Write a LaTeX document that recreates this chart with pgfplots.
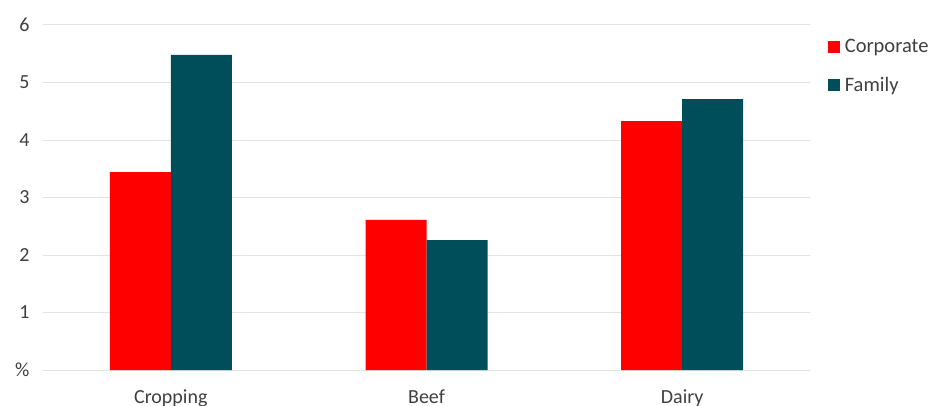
\documentclass[border=0pt]{standalone}
\usepackage{pgfplots}
\pgfplotsset{compat=1.18}
\usepackage{fontspec}
\setmainfont{Carlito}
\definecolor{corp}{HTML}{FF0000}
\definecolor{fam}{HTML}{004E5A}
\definecolor{txt}{HTML}{404040}
\definecolor{grd}{HTML}{E3E3E3}
\begin{document}
\begin{tikzpicture}[x=1pt,y=1pt]
\useasboundingbox (0,0) rectangle (929,405);
\begin{axis}[
  at={(43pt,35pt)}, anchor=south west,
  scale only axis, width=767pt, height=345pt,
  xmin=-0.5, xmax=2.5, ymin=0, ymax=6,
  ybar=0pt, bar width=61pt,
  axis line style={draw=none},
  xtick={0,1,2}, xticklabels={Cropping,Beef,Dairy},
  ytick={0,1,2,3,4,5,6}, yticklabels={\%,1,2,3,4,5,6},
  major tick length=0pt,
  ymajorgrids, grid style={grd, line width=1pt},
  tick label style={font=\fontsize{20}{23}\selectfont, text=txt},
  yticklabel style={anchor=east, xshift=-10pt},
  xticklabel style={yshift=-16pt},
  legend style={draw=none, at={(1.023,0.965)}, anchor=north west,
    font=\fontsize{20.5}{23}\selectfont, text=txt, row sep=19pt,
    inner sep=0pt, cells={anchor=west}},
  legend image code/.code={\fill[#1, draw=none] (0pt,-6pt) rectangle (12pt,6pt); \path (15pt,0pt);},
  /pgf/number format/assume math mode=true,
]
\addplot[fill=corp, draw=none] coordinates {(0,3.44) (1,2.61) (2,4.33)};
\addplot[fill=fam, draw=none] coordinates {(0,5.48) (1,2.26) (2,4.71)};
\legend{Corporate, Family}
\end{axis}
\end{tikzpicture}
\end{document}
